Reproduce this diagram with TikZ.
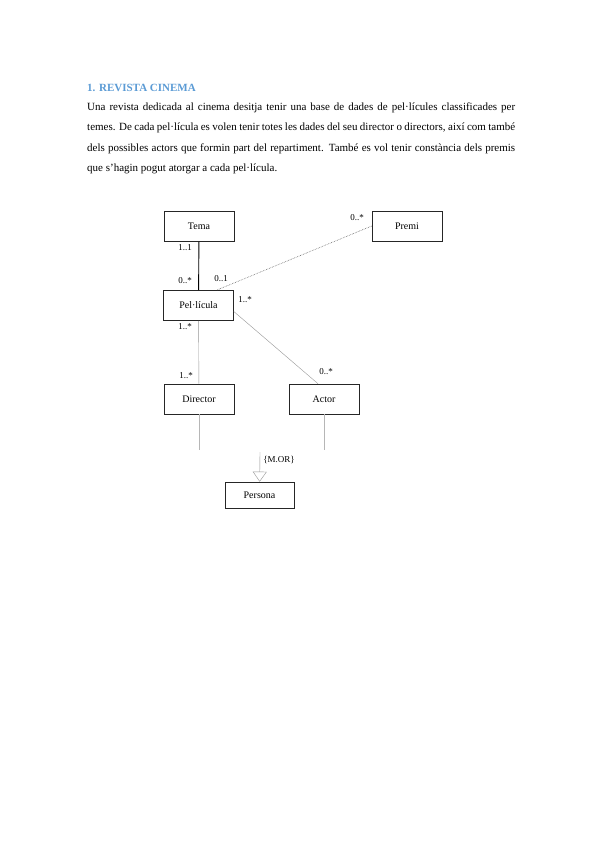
\documentclass[tikz,border=0pt]{standalone}
\usepackage{fontspec}
\setmainfont{Liberation Serif}
\definecolor{headblue}{RGB}{91,155,213}
\definecolor{linegray}{RGB}{150,150,150}
\usetikzlibrary{arrows.meta, positioning}

\begin{document}
\begin{tikzpicture}[x=1pt, y=-1pt,
            cls/.style={draw=black!85, semithick, minimum width=70pt, minimum height=30pt,
                inner sep=0pt, font=\fontsize{10}{12}\selectfont},
            mult/.style={inner sep=0pt, font=\fontsize{9}{10}\selectfont},
            assoc/.style={linegray, thin},
            faint/.style={linegray!70, thin},
            gen/.style={-{Triangle[open, length=10pt, width=14pt]}, linegray, thin}
          ]
          \useasboundingbox[fill=white] (0,0) rectangle (599,848);
          % enunciat
          \node[anchor=base west, inner sep=0pt, text=headblue,
            font=\bfseries\fontsize{11}{13}\selectfont] (titol) at (87,92) {1. REVISTA CINEMA};
          \node[anchor=base west, inner sep=0pt, text width=428pt, align=justify,
            font=\fontsize{11}{20}\selectfont] (enunciat) at (87,111)
          {Una revista dedicada al cinema desitja tenir una base de dades de pel·lícules classificades per
           temes. De cada pel·lícula es volen tenir totes les dades del seu director o directors, així com també
           dels possibles actors que formin part del repartiment. També es vol tenir constància dels premis
           que s’hagin pogut atorgar a cada pel·lícula.};
          % classes
          \node[cls] (tema)    at (199,226.5) {Tema};
          \node[cls] (premi)   at (407,226)   {Premi};
          \node[cls] (pel)     at (198.5,305.5) {Pel·lícula};
          \node[cls] (dir)     at (199,399)   {Director};
          \node[cls] (act)     at (324,399)   {Actor};
          \node[cls, minimum width=69pt, minimum height=26pt] (persona) at (259.5,495) {Persona};
          \coordinate (dirend) at (199,450);
          \coordinate (actend) at (324,450);
          \coordinate (genini) at (260,452);
          % associacions
          \draw[black, line width=0.9pt] (tema) -- (pel);
          \draw[black!60, densely dotted, line width=0.6pt] (premi.west) -- ([xshift=18pt]pel.north);
          \draw[assoc] ([yshift=-6pt]pel.east) -- ([xshift=-6pt]act.north);
          \draw[assoc] (pel) -- (dir);
          \draw[faint] (dir) -- (dirend);
          \draw[faint] (act) -- (actend);
          \draw[gen] (genini) -- (persona);
          % multiplicitats
          \node[mult] (m1) at (185,248) {1..1};
          \node[mult] (m2) at (185,281) {0..*};
          \node[mult] (m3) at (221,279) {0..1};
          \node[mult] (m4) at (357,218) {0..*};
          \node[mult] (m5) at (245,300) {1..*};
          \node[mult] (m6) at (185,327) {1..*};
          \node[mult] (m7) at (186,376) {1..*};
          \node[mult] (m8) at (326,372) {0..*};
          \node[mult] (mor) at (279,460) {\{M.OR\}};
        \end{tikzpicture}
\end{document}
